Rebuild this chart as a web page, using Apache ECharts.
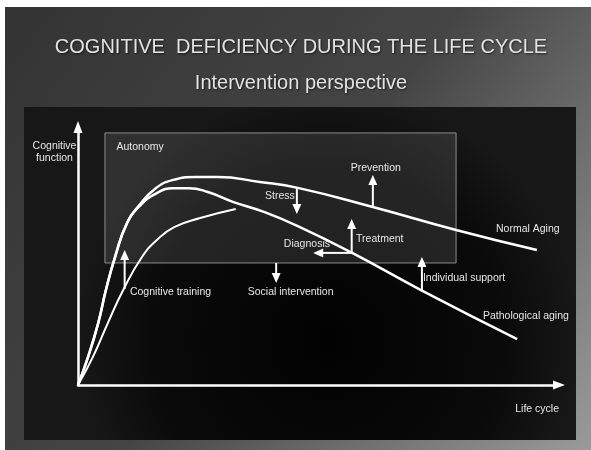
<!DOCTYPE html>
<html>
<head>
<meta charset="utf-8">
<script src="https://cdn.jsdelivr.net/npm/echarts@6/dist/echarts.min.js"></script>
<style>
html,body{margin:0;padding:0;background:#3a3a3a;}
#chart{width:591px;height:450px;}
</style>
</head>
<body>
<div id="chart"></div>
<script>
// ---- Data (life-cycle position 0-100, cognitive function 0-100) ----
const normalAging = [
  [0,0],[2.1,10.9],[4.2,24.0],[5.8,36.8],[7.7,49.6],[10.2,62.8],[12.8,69.8],
  [16.0,76.0],[19.6,79.4],[24.5,80.6],[29.0,80.6],[37.8,78.7],[45.7,76.4],[61.3,69.0],
  [78.6,60.1],[95.4,52.3]
];
const pathologicalAging = [
  [0,0],[2.1,10.9],[4.2,24.0],[5.8,36.8],[7.7,49.6],[10.2,62.8],[12.8,69.3],
  [16.2,74.2],[19.8,76.3],[23.0,76.3],[27.0,74.8],[32.2,71.0],[38.5,67.2],[45.7,61.6],
  [57.0,51.2],[71.3,36.8],[91.3,17.8]
];
const cognitiveTraining = [
  [0,0],[3.1,10.9],[6.2,24.0],[9.4,36.8],[13.3,49.6],[16.4,56.2],[20.0,61.2],[25.4,64.7],[32.8,68.2]
];
// Autonomy zone: [x1, yTop] to [x2, yBottom]
const autonomyZone = [[5.6, 97.7], [78.6, 47.3]];
// Intervention arrows: from -> to
const arrowNames = ['Cognitive training','Stress','Prevention','Treatment','Diagnosis','Social intervention','Individual support'];
const arrowFrom = [[9.7,37.2],[45.5,76.4],[61.3,69.0],[56.9,51.2],[56.9,51.2],[41.2,47.3],[71.5,36.8]];
const arrowTo   = [[9.7,52.3],[45.5,66.3],[61.3,81.4],[56.9,64.3],[48.9,51.2],[41.2,39.5],[71.5,49.6]];
// Text annotations
const labelTexts = ['Cognitive training','Social intervention','Stress','Prevention','Treatment','Diagnosis','Individual support','Normal Aging','Pathological aging'];
const labelPos   = [[10.8,36.0],[44.2,36.0],[38.9,73.3],[61.9,84.1],[57.8,56.6],[42.8,54.7],[71.7,41.5],[86.9,60.5],[84.2,26.7]];
const labelAlign = ['left','center','left','center','left','left','left','left','left'];
const titleText = 'COGNITIVE  DEFICIENCY DURING THE LIFE CYCLE';
const subtitleText = 'Intervention perspective';
const xName = 'Life cycle';
const yName = 'Cognitive\nfunction';

const FONT = '"Liberation Sans", Arial, Helvetica, sans-serif';
const chart = echarts.init(document.getElementById('chart'));

const option = {
  animation: false,
  backgroundColor: new echarts.graphic.LinearGradient(0, 0, 1, 1, [
    {offset: 0, color: '#333333'}, {offset: 0.5, color: '#454545'}, {offset: 1, color: '#9a9a9a'}
  ]),
  graphic: [
    {type: 'rect', z: -10, shape: {x: 0, y: 0, width: 591, height: 7}, style: {fill: '#ffffff'}},
    {type: 'rect', z: -10, shape: {x: 0, y: 0, width: 5, height: 450}, style: {fill: '#ffffff'}},
    {type: 'rect', z: -10, shape: {x: 24, y: 107, width: 552, height: 333},
      style: {fill: new echarts.graphic.RadialGradient(0.55, 0.7, 0.75, [
        {offset: 0, color: '#020202'}, {offset: 0.7, color: '#0a0a0a'}, {offset: 1, color: '#171717'}
      ])}}
  ],
  title: [
    {text: titleText, left: 301, top: 35, textAlign: 'center', padding: 0,
      textStyle: {color: '#e2e2e2', fontSize: 20, fontWeight: 'normal', fontFamily: FONT, lineHeight: 24,
        textShadowColor: 'rgba(0,0,0,0.6)', textShadowBlur: 2, textShadowOffsetX: 1, textShadowOffsetY: 1}},
    {text: subtitleText, left: 301, top: 71, textAlign: 'center', padding: 0,
      textStyle: {color: '#e2e2e2', fontSize: 20, fontWeight: 'normal', fontFamily: FONT, lineHeight: 24,
        textShadowColor: 'rgba(0,0,0,0.6)', textShadowBlur: 2, textShadowOffsetX: 1, textShadowOffsetY: 1}}
  ],
  grid: {left: 78, right: 32, top: 127, bottom: 65, containLabel: false},
  xAxis: {
    type: 'value', min: 0, max: 100,
    name: xName, nameLocation: 'end', nameGap: 0,
    nameTextStyle: {color: '#e6e6e6', fontSize: 10.5, fontFamily: FONT, align: 'right', verticalAlign: 'top', lineHeight: 12, padding: [18, 0, 0, 0]},
    axisLine: {show: true, symbol: ['none', 'triangle'], symbolSize: [9, 12], lineStyle: {color: '#ffffff', width: 2.5}},
    axisTick: {show: false}, axisLabel: {show: false}, splitLine: {show: false}
  },
  yAxis: {
    type: 'value', min: 0, max: 100,
    name: yName, nameLocation: 'end', nameGap: -13,
    nameTextStyle: {color: '#e6e6e6', fontSize: 10.5, fontFamily: FONT, align: 'center', verticalAlign: 'top', lineHeight: 12, padding: [0, 47, 0, 0]},
    axisLine: {show: true, onZero: false, symbol: ['none', 'triangle'], symbolSize: [9, 12], lineStyle: {color: '#ffffff', width: 2.5}},
    axisTick: {show: false}, axisLabel: {show: false}, splitLine: {show: false}
  },
  series: [
    {
      name: 'Normal Aging', type: 'line', data: normalAging, showSymbol: false, smooth: 0.5,
      lineStyle: {color: '#ffffff', width: 2.5}, z: 3,
      markArea: {
        silent: true,
        itemStyle: {color: 'rgba(255,255,255,0.11)', borderColor: '#8c8c8c', borderWidth: 1},
        label: {show: true, position: 'insideTopLeft', distance: 0, offset: [12, 9], color: '#e6e6e6', fontSize: 10.5, fontFamily: FONT, lineHeight: 12},
        data: [[{name: 'Autonomy', coord: autonomyZone[0]}, {coord: autonomyZone[1]}]]
      }
    },
    {
      name: 'Pathological aging', type: 'line', data: pathologicalAging, showSymbol: false, smooth: 0.5,
      lineStyle: {color: '#ffffff', width: 2.5}, z: 3
    },
    {
      name: 'Cognitive training', type: 'line', data: cognitiveTraining, showSymbol: false, smooth: 0.5,
      lineStyle: {color: '#ffffff', width: 2}, z: 3
    },
    {
      name: 'Interventions', type: 'custom', coordinateSystem: 'cartesian2d', z: 4,
      data: arrowFrom.map((f, i) => [f[0], f[1], arrowTo[i][0], arrowTo[i][1], arrowNames[i]]),
      encode: {x: [0, 2], y: [1, 3]},
      renderItem: function (params, api) {
        const p1 = api.coord([api.value(0), api.value(1)]);
        const p2 = api.coord([api.value(2), api.value(3)]);
        const dx = p2[0] - p1[0], dy = p2[1] - p1[1];
        const len = Math.sqrt(dx * dx + dy * dy) || 1;
        const ux = dx / len, uy = dy / len;
        const L = 10, W = 4.5;
        const bx = p2[0] - ux * L, by = p2[1] - uy * L;
        return {
          type: 'group',
          children: [
            {type: 'line', shape: {x1: p1[0], y1: p1[1], x2: bx + ux, y2: by + uy}, style: {stroke: '#ffffff', lineWidth: 2}},
            {type: 'polygon', shape: {points: [[p2[0], p2[1]], [bx - uy * W, by + ux * W], [bx + uy * W, by - ux * W]]}, style: {fill: '#ffffff'}}
          ]
        };
      }
    },
    {
      name: 'Labels', type: 'custom', coordinateSystem: 'cartesian2d', z: 5,
      data: labelPos.map((p, i) => [p[0], p[1], labelTexts[i]]),
      encode: {x: 0, y: 1},
      renderItem: function (params, api) {
        const p = api.coord([api.value(0), api.value(1)]);
        const i = params.dataIndex;
        return {
          type: 'text', x: p[0], y: p[1],
          style: {text: labelTexts[i], fill: '#e6e6e6', font: '10.5px ' + FONT, align: labelAlign[i], verticalAlign: 'middle'}
        };
      }
    }
  ]
};
chart.setOption(option);
</script>
</body>
</html>
